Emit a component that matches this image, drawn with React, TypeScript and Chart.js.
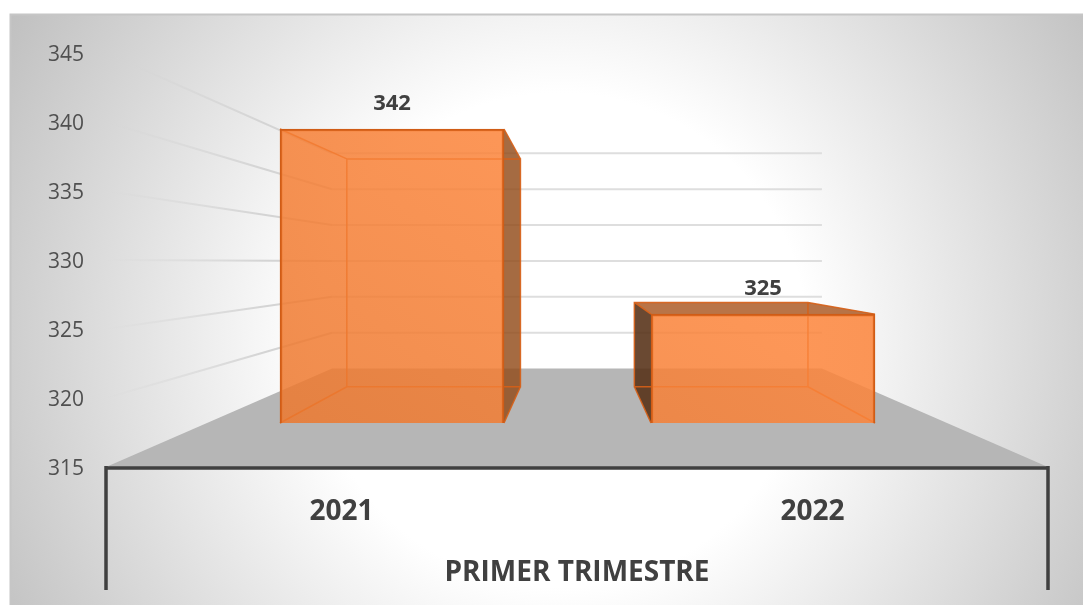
import React, { useEffect, useRef } from "react";
import { Chart, registerables } from "chart.js";

Chart.register(...registerables);

const categories = ["2021", "2022"];
const values = [342, 325];
const axisMin = 315;
const axisMax = 345;
const axisStep = 5;
const axisTitle = "PRIMER TRIMESTRE";

const FONT = '"Open Sans", sans-serif';
const TEXT = "#404040";
const VP_Y = 262;
const WALL_DEPTH = 0.52;
const BAR_DEPTH = 0.775;

const depthPlugin = {
  id: "depth",
  beforeDraw(chart: any) {
    const { ctx, width, height } = chart;
    ctx.save();
    ctx.fillStyle = "#ffffff";
    ctx.fillRect(0, 0, width, height);
    const g = ctx.createRadialGradient(560, 340, 0, 560, 340, 650);
    g.addColorStop(0, "#ffffff");
    g.addColorStop(0.38, "#ffffff");
    g.addColorStop(1, "#bebebe");
    ctx.fillStyle = g;
    ctx.fillRect(10, 14, width - 10, height - 14);
    ctx.strokeStyle = "#c6c6c6";
    ctx.lineWidth = 2;
    ctx.beginPath();
    ctx.moveTo(10.5, height);
    ctx.lineTo(10.5, 14.5);
    ctx.lineTo(width, 14.5);
    ctx.stroke();
    ctx.restore();
  },
  beforeDatasetsDraw(chart: any) {
    const { ctx, scales } = chart;
    const x = scales.x, y = scales.y;
    const vx = (x.left + x.right) / 2;
    const px = (v: number, d: number) => vx + (v - vx) * d;
    const py = (v: number, d: number) => VP_Y + (v - VP_Y) * d;
    const bottom = y.getPixelForValue(axisMin);

    ctx.save();
    // floor
    ctx.fillStyle = "#b6b6b6";
    ctx.beginPath();
    ctx.moveTo(x.left, bottom);
    ctx.lineTo(x.right, bottom);
    ctx.lineTo(px(x.right, WALL_DEPTH), py(bottom, WALL_DEPTH));
    ctx.lineTo(px(x.left, WALL_DEPTH), py(bottom, WALL_DEPTH));
    ctx.closePath();
    ctx.fill();

    // gridlines, on the left wall and on the back wall
    for (let v = axisMin + axisStep; v <= axisMax; v += axisStep) {
      const yv = y.getPixelForValue(v);
      const bx = px(x.left, WALL_DEPTH);
      const by = py(yv, WALL_DEPTH);
      const grad = ctx.createLinearGradient(x.left, 0, bx, 0);
      grad.addColorStop(0, "rgba(212,212,212,0)");
      grad.addColorStop(0.12, "rgba(212,212,212,0.2)");
      grad.addColorStop(0.7, "rgba(212,212,212,1)");
      ctx.strokeStyle = grad;
      ctx.lineWidth = 2;
      ctx.beginPath();
      ctx.moveTo(x.left, yv);
      ctx.lineTo(bx, by);
      ctx.stroke();
      ctx.strokeStyle = "#dedede";
      ctx.beginPath();
      ctx.moveTo(bx, by);
      ctx.lineTo(px(x.right, WALL_DEPTH), by);
      ctx.stroke();
    }

    // frame of the category axis
    ctx.strokeStyle = TEXT;
    ctx.lineWidth = 3.5;
    ctx.lineCap = "butt";
    ctx.beginPath();
    ctx.moveTo(x.left, 590);
    ctx.lineTo(x.left, bottom - 1);
    ctx.moveTo(x.right, bottom - 1);
    ctx.lineTo(x.right, 590);
    ctx.moveTo(x.left, bottom + 1);
    ctx.lineTo(x.right, bottom + 1);
    ctx.stroke();

    // depth faces of each bar, taken from the bar element
    const meta = chart.getDatasetMeta(0);
    meta.data.forEach((bar: any) => {
      const p = bar.getProps(["x", "y", "base", "width"], true);
      const l = p.x - p.width / 2, r = p.x + p.width / 2;
      const t = p.y, b = p.base;
      const bl = px(l, BAR_DEPTH), br = px(r, BAR_DEPTH);
      const bt = py(t, BAR_DEPTH), bb = py(b, BAR_DEPTH);
      const face = (pts: number[][], fill: string) => {
        ctx.beginPath();
        pts.forEach((q, i) => (i ? ctx.lineTo(q[0], q[1]) : ctx.moveTo(q[0], q[1])));
        ctx.closePath();
        ctx.fillStyle = fill;
        ctx.fill();
      };
      if (br > r) face([[r, t], [br, bt], [br, bb], [r, b]], "rgba(145,75,25,0.82)");
      if (bl < l) face([[l, t], [bl, bt], [bl, bb], [l, b]], "rgba(85,48,22,0.88)");
      if (bt < t) face([[l, t], [bl, bt], [br, bt], [r, t]], "rgba(170,85,30,0.82)");
      ctx.strokeStyle = "rgba(215,95,22,0.9)";
      ctx.lineWidth = 1.5;
      ctx.beginPath();
      ctx.rect(bl, bt, br - bl, bb - bt);
      ctx.moveTo(l, t); ctx.lineTo(bl, bt);
      ctx.moveTo(r, t); ctx.lineTo(br, bt);
      ctx.moveTo(l, b); ctx.lineTo(bl, bb);
      ctx.moveTo(r, b); ctx.lineTo(br, bb);
      ctx.stroke();
    });
    ctx.restore();
  },
  afterDatasetsDraw(chart: any) {
    const { ctx } = chart;
    const meta = chart.getDatasetMeta(0);
    ctx.save();
    ctx.font = `bold 22px ${FONT}`;
    ctx.fillStyle = TEXT;
    ctx.textAlign = "center";
    ctx.textBaseline = "middle";
    meta.data.forEach((bar: any, i: number) => {
      ctx.fillText(String(values[i]), bar.x, bar.y - 25);
    });
    ctx.restore();
  },
};

export default function App() {
  const ref = useRef<HTMLCanvasElement>(null);
  useEffect(() => {
    const canvas = ref.current!;
    const ctx = canvas.getContext("2d")!;
    const fill = ctx.createLinearGradient(280, 423, 504, 129);
    fill.addColorStop(0, "rgba(236,120,46,0.85)");
    fill.addColorStop(1, "rgba(252,132,58,0.85)");
    const chart = new Chart(canvas, {
      type: "bar",
      data: {
        labels: categories,
        datasets: [
          {
            data: values.map((v, i) => ({ x: i, y: v })),
            xAxisID: "xBar",
            yAxisID: "yBar",
            base: axisMin,
            barThickness: 224,
            backgroundColor: fill,
            borderColor: "#d05c16",
            borderWidth: 2,
          } as any,
        ],
      },
      options: {
        animation: false,
        responsive: false,
        layout: { padding: { top: 53, right: 35, left: 0, bottom: 0 } },
        plugins: { legend: { display: false }, tooltip: { enabled: false } },
        scales: {
          x: {
            type: "category",
            labels: categories,
            offset: true,
            grid: { display: false, drawTicks: false },
            border: { display: false },
            ticks: {
              padding: 28,
              maxRotation: 0,
              color: TEXT,
              font: { family: FONT, size: 28, weight: "bold" },
            },
            title: {
              display: true,
              text: axisTitle,
              color: TEXT,
              font: { family: FONT, size: 28, weight: "bold" },
              padding: { top: 0, bottom: 15 },
            },
            afterFit(scale: any) {
              scale.height = 138;
            },
          },
          y: {
            type: "linear",
            min: axisMin,
            max: axisMax,
            grid: { display: false, drawTicks: false },
            border: { display: false },
            ticks: {
              stepSize: axisStep,
              padding: 22,
              labelOffset: 2,
              color: "#505050",
              font: { family: FONT, size: 21 },
            },
            afterFit(scale: any) {
              scale.width = 106;
            },
          },
          xBar: { type: "linear", display: false, offset: false, min: -0.7709, max: 1.7682 },
          yBar: { type: "linear", display: false, min: 310.96, max: 348.98 },
        },
      } as any,
      plugins: [depthPlugin],
    });
    return () => chart.destroy();
  }, []);
  return (
    <div style={{ position: "absolute", left: 0, top: 0, width: 1083, height: 605 }}>
      <canvas ref={ref} width={1083} height={605} style={{ display: "block" }} />
    </div>
  );
}
